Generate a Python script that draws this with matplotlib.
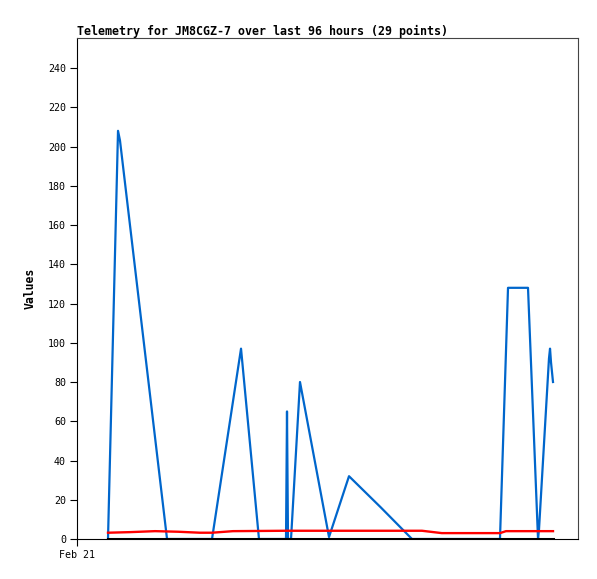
import matplotlib
matplotlib.use("Agg")
import matplotlib.pyplot as plt

# time in hours since Feb 21 00:00 (axis spans 96 hours)
blue_hours = [5.94, 7.86, 8.24, 17.25, 21.65, 25.87, 31.43, 34.87, 37.56, 40.05,
              40.24, 40.43, 41.01, 42.73, 48.29, 52.12, 58.25, 64.19, 69.56, 75.31,
              81.05, 82.59, 86.42, 88.34, 88.53, 90.44, 90.64, 90.83, 91.21]
blue_vals = [0, 208, 203, 0, 0, 0, 97, 0, 0, 0,
             65, 0, 0, 80, 1, 32, 16, 0, 0, 0,
             0, 128, 128, 0, 5, 92, 97, 90, 80]

red_hours = [5.94, 10.16, 14.95, 19.35, 23.57, 25.87, 29.89, 40.05, 66.1, 68.0,
             69.9, 81.05, 82.2, 91.21]
red_vals = [3.2, 3.5, 4.0, 3.7, 3.2, 3.2, 4.0, 4.2, 4.2, 3.6,
            3.0, 3.0, 4.0, 4.0]

black_hours = [5.94, 91.21]
black_vals = [0, 0]

y_ticks = list(range(0, 241, 20))
x_tick_labels = ["Feb 21"]

mono = "DejaVu Sans Mono"

fig = plt.figure(figsize=(5.97, 5.79), dpi=100)
ax = fig.add_axes([77 / 597, 40 / 579, 501 / 597, 501 / 579])

ax.plot(blue_hours, blue_vals, color="#0066cc", linewidth=1.6)
ax.plot(red_hours, red_vals, color="#ff0000", linewidth=1.7)
ax.plot(black_hours, black_vals, color="#000000", linewidth=2.2)

ax.set_xlim(0, 96)
ax.set_ylim(0, 255.3)
ax.set_yticks(y_ticks)
ax.set_yticklabels([str(v) for v in y_ticks], fontfamily=mono, fontsize=7.2)
ax.set_xticks([0])
ax.set_xticklabels(x_tick_labels, fontfamily=mono, fontsize=7.2)
ax.tick_params(direction="out", length=5, width=0.8, pad=3)

for side in ["top", "right"]:
    ax.spines[side].set_color("#444444")
    ax.spines[side].set_linewidth(0.8)
for side in ["left", "bottom"]:
    ax.spines[side].set_color("#000000")
    ax.spines[side].set_linewidth(0.8)

ax.set_title("Telemetry for JM8CGZ-7 over last 96 hours (29 points)",
             loc="left", fontfamily=mono, fontsize=8.35, fontweight="bold", pad=2)
ax.set_ylabel("Values", fontfamily=mono, fontsize=8.3, fontweight="bold", labelpad=8)

fig.savefig("out.png", dpi=100)
